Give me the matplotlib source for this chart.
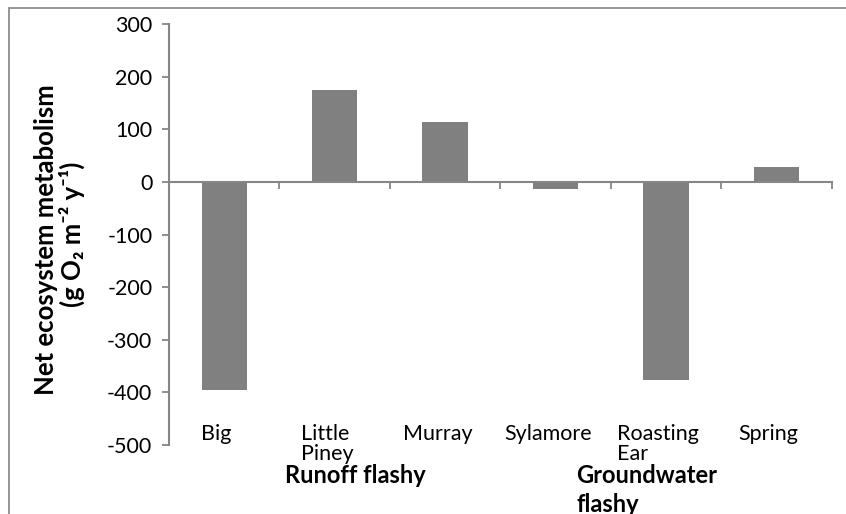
import matplotlib.pyplot as plt
import matplotlib.patches as patches
import numpy as np

plt.rcParams['font.family'] = ['Lato', 'DejaVu Sans']
plt.rcParams['axes.unicode_minus'] = False

streams = ['Big', 'Little\nPiney', 'Murray', 'Sylamore', 'Roasting\nEar', 'Spring']
nem = [-395, 174, 114, -13, -377, 28]
groups = ['Runoff flashy', 'Groundwater\nflashy']
group_x = [1.19, 3.19]
group_ha = ['center', 'left']

fig = plt.figure(figsize=(8.46, 5.14), dpi=100)
ax = fig.add_axes([0.1998, 0.1342, 0.7832, 0.8191])

x = np.arange(len(streams))
ax.bar(x, nem, width=0.41, color='#808080', zorder=2)

ax.set_ylim(-500, 300)
ax.set_xlim(-0.5, len(streams) - 0.5)
ax.set_yticks(np.arange(-500, 301, 100))
ax.tick_params(axis='y', labelsize=15.5, length=5, width=1.3, color='#868686', pad=7)

# x axis sits at zero, ticks between categories
ax.spines['bottom'].set_position(('data', 0))
ax.spines['bottom'].set_color('#868686')
ax.spines['bottom'].set_linewidth(1.5)
ax.spines['left'].set_color('#868686')
ax.spines['left'].set_linewidth(1.5)
ax.spines['top'].set_visible(False)
ax.spines['right'].set_visible(False)
ax.set_xticks(np.arange(len(streams) + 1) - 0.5)
ax.set_xticklabels([])
ax.tick_params(axis='x', direction='out', length=5, width=1.3, color='#868686')

for xi, name in zip(x, streams):
    ax.text(xi - 0.07, -460, name, ha='center', va='top', fontsize=15.5,
            multialignment='left', linespacing=1.0, clip_on=False)

for gx, g, ha in zip(group_x, groups, group_ha):
    ax.text(gx, -537, g, ha=ha, va='top', fontsize=17, fontweight='bold',
            multialignment='left', linespacing=1.3, clip_on=False)

fig.text(0.054, 0.533, 'Net ecosystem metabolism', rotation=90, ha='center',
         va='center', rotation_mode='anchor', fontsize=18.5, fontweight='bold')
fig.text(0.085, 0.545, '(g O\u2082 m\u207b\u00b2 y\u207b\u00b9)', rotation=90,
         ha='center', va='center', rotation_mode='anchor',
         fontsize=18.5, fontweight='bold', family=['Lato', 'DejaVu Sans'])

# chart area border (only top and left visible)
fig.patches.append(patches.Rectangle((9 / 846, -0.1), 1.2, 1 - 8 / 514 + 0.1,
                                     transform=fig.transFigure, fill=False,
                                     edgecolor='#8c8c8c', linewidth=1.3))

fig.savefig('out.png', dpi=100)
